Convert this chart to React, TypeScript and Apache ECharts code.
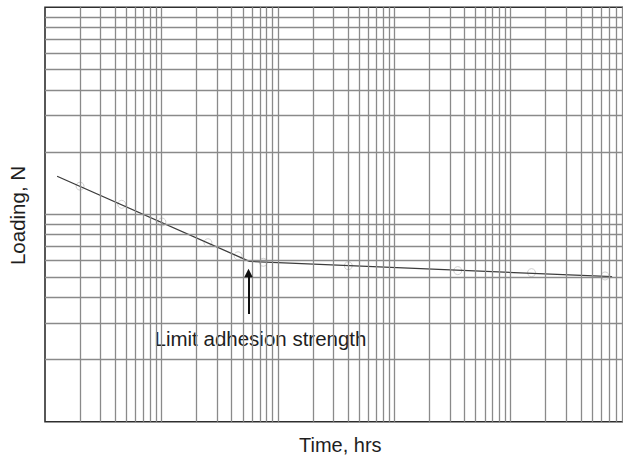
import React, { useEffect, useRef } from "react";
import * as echarts from "echarts";

// Grid (log-log paper) definitions
const gridMultipliers = [1, 2, 3, 4, 5, 6, 7, 8, 9];
const timeDecades = [1, 10, 100, 1000, 10000];
const loadDecades = [1, 10];

// Curve (Time, hrs vs Loading, N)
const lineTime = [1.27, 57, 74300];
const lineLoad = [15.3, 5.94, 5.01];

// Faint experimental markers
const markerTime = [2.0, 4.56, 10.1, 25.1, 45.5, 75, 403, 3510, 15100, 64700];
const markerLoad = [13.7, 11.2, 9.2, 7.31, 6.32, 5.88, 5.66, 5.36, 5.24, 5.05];

// Arrow marking the limit adhesion strength
const arrowTime = 56;
const arrowLoadFrom = 3.31;
const arrowLoadTo = 5.22;

const FONT = "'Liberation Sans', Arial, Helvetica, sans-serif";

export default function App() {
  const ref = useRef<HTMLDivElement>(null);
  useEffect(() => {
    if (!ref.current) return;
    const chart = echarts.init(ref.current, undefined, { renderer: "svg" });
    const xGrid = timeDecades
      .flatMap((d) => gridMultipliers.map((m) => m * d))
      .filter((v) => v > 1);
    const yGrid = loadDecades
      .flatMap((d) => gridMultipliers.map((m) => m * d))
      .filter((v) => v > 1 && v < 100);
    const gridLine = { color: "#8a8a8a", width: 1.3, type: "solid" as const };
    chart.setOption({
      animation: false,
      grid: {
        left: 45,
        right: 12.9,
        top: 7.3,
        bottom: 34.3,
        show: true,
        borderColor: "#2e2e2e",
        borderWidth: 1.6,
        backgroundColor: "#fff",
      },
      xAxis: {
        type: "log",
        logBase: 10,
        min: 1,
        max: 100000,
        axisLabel: { show: false },
        axisTick: { show: false },
        axisLine: { show: false },
        splitLine: { show: false },
      },
      yAxis: {
        type: "log",
        logBase: 10,
        min: 1,
        max: 100,
        axisLabel: { show: false },
        axisTick: { show: false },
        axisLine: { show: false },
        splitLine: { show: false },
      },
      series: [
        {
          type: "line",
          data: [],
          silent: true,
          markLine: {
            silent: true,
            symbol: ["none", "none"],
            label: { show: false },
            lineStyle: gridLine,
            data: [
              ...xGrid.map((v) => ({ xAxis: v })),
              ...yGrid.map((v) => ({ yAxis: v })),
            ],
          },
        },
        {
          type: "scatter",
          data: markerTime.map((t, i) => [t, markerLoad[i]]),
          symbol: "circle",
          symbolSize: 8,
          itemStyle: {
            color: "rgba(255,255,255,0.7)",
            borderColor: "#c4c4c4",
            borderWidth: 1,
          },
          z: 3,
        },
        {
          type: "line",
          data: lineTime.map((t, i) => [t, lineLoad[i]]),
          symbol: "none",
          lineStyle: { color: "#3c3c3c", width: 1.3 },
          z: 4,
          markLine: {
            silent: true,
            symbol: ["none", "triangle"],
            symbolSize: 8.5,
            label: { show: false },
            lineStyle: { color: "#111", width: 2, type: "solid" },
            itemStyle: { color: "#111" },
            data: [
              [
                { coord: [arrowTime, arrowLoadFrom] },
                { coord: [arrowTime, arrowLoadTo] },
              ],
            ],
          },
        },
      ],
      graphic: [
        {
          type: "text",
          x: 17.5,
          y: 215.5,
          rotation: Math.PI / 2,
          style: {
            text: "Loading, N",
            fontSize: 20.5,
            fontFamily: FONT,
            fill: "#1e1e1e",
            textAlign: "center",
            textVerticalAlign: "middle",
          },
        },
        {
          type: "text",
          x: 340.3,
          y: 445,
          style: {
            text: "Time, hrs",
            fontSize: 20,
            fontFamily: FONT,
            fill: "#1e1e1e",
            textAlign: "center",
            textVerticalAlign: "middle",
          },
        },
        {
          type: "text",
          x: 154.5,
          y: 338,
          style: {
            text: "Limit adhesion strength",
            fontSize: 20.5,
            fontFamily: FONT,
            fill: "#1e1e1e",
            textAlign: "left",
            textVerticalAlign: "middle",
          },
        },
      ],
    });
    return () => chart.dispose();
  }, []);
  return (
    <div
      style={{
        position: "absolute",
        left: 0,
        top: 0,
        width: 623,
        height: 456,
        overflow: "hidden",
        background: "#fff",
      }}
    >
      <div ref={ref} style={{ width: 640, height: 456 }} />
    </div>
  );
}
